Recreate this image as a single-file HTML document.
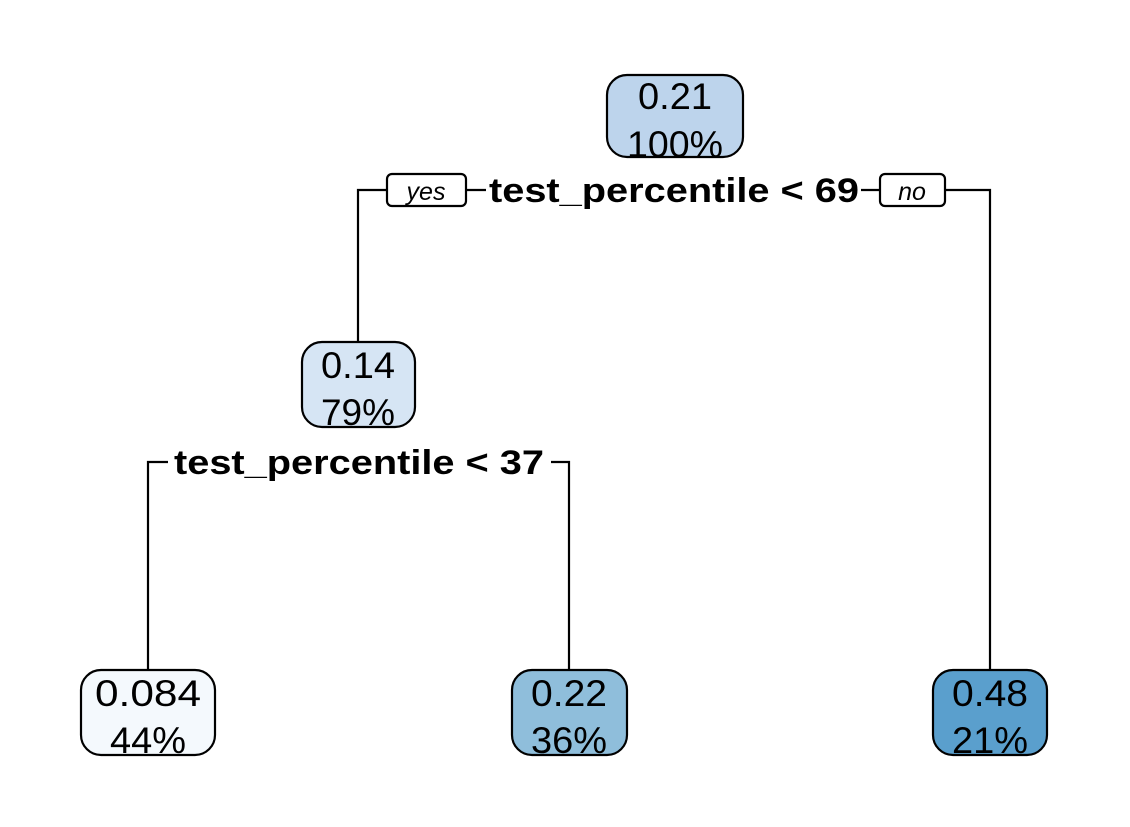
<!DOCTYPE html>
<html><head><meta charset="utf-8"><style>
html,body{margin:0;padding:0;background:#fff;}
svg{display:block;}
text{font-family:"Liberation Sans",Arial,sans-serif;fill:#000;}
</style></head><body>
<svg width="1130" height="827" viewBox="0 0 1130 827" xmlns="http://www.w3.org/2000/svg">
<g fill="none" stroke="#000" stroke-width="2.2">
<polyline points="358,342 358,190 387,190"/>
<line x1="466" y1="190" x2="486" y2="190"/>
<line x1="861" y1="190" x2="880" y2="190"/>
<polyline points="945,190 990,190 990,670"/>
<polyline points="148,670 148,462 168,462"/>
<polyline points="551,462 569,462 569,670"/>
</g>
<g stroke="#000" stroke-width="2.2">
<rect x="607" y="75" width="136" height="82" rx="20" fill="#bdd4ec"/>
<rect x="302" y="342" width="113" height="85" rx="20" fill="#d6e5f4"/>
<rect x="81" y="670" width="134" height="85" rx="20" fill="#f4f9fd"/>
<rect x="512" y="670" width="115" height="85" rx="20" fill="#8fbedb"/>
<rect x="933" y="670" width="114" height="85" rx="20" fill="#5a9fcd"/>
<rect x="387" y="174" width="79" height="32" rx="5" fill="#fff"/>
<rect x="880" y="174" width="65" height="32" rx="5" fill="#fff"/>
</g>
<g font-size="37" text-anchor="middle" lengthAdjust="spacingAndGlyphs">
<text x="675" y="109" textLength="74" lengthAdjust="spacingAndGlyphs">0.21</text>
<text x="675" y="157" textLength="96" lengthAdjust="spacingAndGlyphs">100%</text>
<text x="358" y="378" textLength="74" lengthAdjust="spacingAndGlyphs">0.14</text>
<text x="358" y="425" textLength="74" lengthAdjust="spacingAndGlyphs">79%</text>
<text x="148" y="706" textLength="106" lengthAdjust="spacingAndGlyphs">0.084</text>
<text x="148" y="753" textLength="76" lengthAdjust="spacingAndGlyphs">44%</text>
<text x="569" y="706" textLength="76" lengthAdjust="spacingAndGlyphs">0.22</text>
<text x="569" y="753" textLength="76" lengthAdjust="spacingAndGlyphs">36%</text>
<text x="990" y="706" textLength="76" lengthAdjust="spacingAndGlyphs">0.48</text>
<text x="990" y="753" textLength="76" lengthAdjust="spacingAndGlyphs">21%</text>
</g>
<g font-size="25" font-style="italic" text-anchor="middle">
<text x="426" y="200">yes</text>
<text x="912" y="200">no</text>
</g>
<g font-size="34" font-weight="bold" text-anchor="middle">
<text x="674" y="202" textLength="370" lengthAdjust="spacingAndGlyphs">test_percentile &lt; 69</text>
<text x="359" y="474" textLength="370" lengthAdjust="spacingAndGlyphs">test_percentile &lt; 37</text>
</g>
</svg>
</body></html>
